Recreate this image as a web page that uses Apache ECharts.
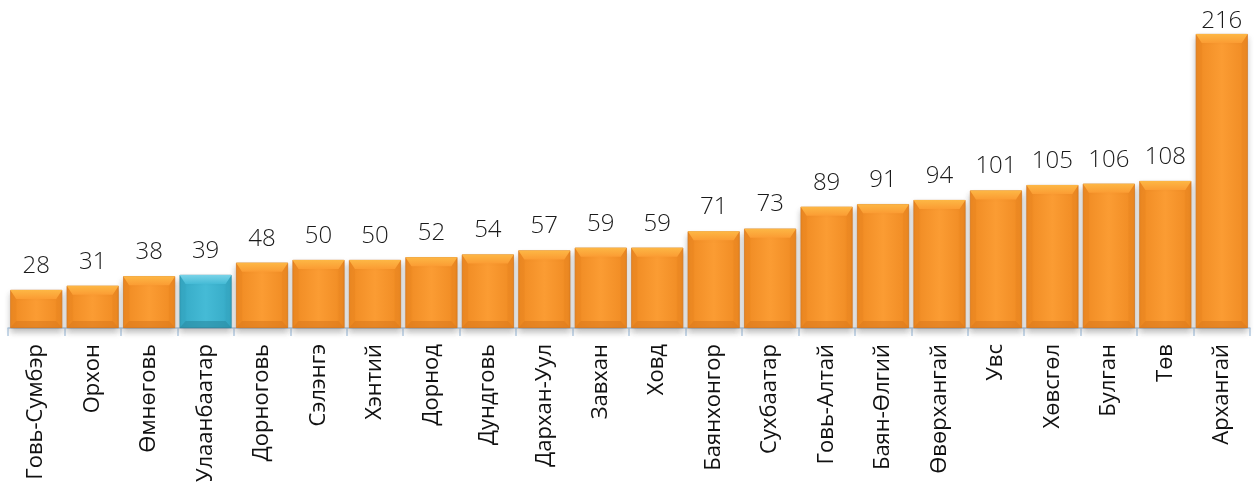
<!DOCTYPE html>
<html>
<head>
<meta charset="utf-8">
<script src="https://cdn.jsdelivr.net/npm/echarts@6/dist/echarts.min.js"></script>
<style>
  html, body { margin: 0; padding: 0; background: #fff; }
  #chart { width: 1259px; height: 488px; }
</style>
</head>
<body>
<div id="chart"></div>
<script>
// Aimags sorted ascending by value; the capital is shown in blue.
const categories = ['Говь-Сумбэр', 'Орхон', 'Өмнөговь', 'Улаанбаатар', 'Дорноговь', 'Сэлэнгэ', 'Хэнтий', 'Дорнод', 'Дундговь', 'Дархан-Уул', 'Завхан', 'Ховд', 'Баянхонгор', 'Сухбаатар', 'Говь-Алтай', 'Баян-Өлгий', 'Өвөрхангай', 'Увс', 'Хөвсгөл', 'Булган', 'Төв', 'Архангай'];
const values = [28, 31, 38, 39, 48, 50, 50, 52, 54, 57, 59, 59, 71, 73, 89, 91, 94, 101, 105, 106, 108, 216];
const highlighted = ['Улаанбаатар'];

const palette = {
  orange: { edge: '#ef8a22', mid: '#fb9c33', top: '#fdb745', bottom: '#dc7a1c', side: '#e9841f', line: '#c46b1c' },
  blue:   { edge: '#35a9c5', mid: '#45bbd6', top: '#79d3e8', bottom: '#2a8aa2', side: '#33a2bd', line: '#26798f' }
};
const tone = name => highlighted.includes(name) ? palette.blue : palette.orange;
const yMax = 216;

const chart = echarts.init(document.getElementById('chart'));

const barData = values.map((v, i) => {
  const c = tone(categories[i]);
  return {
    value: v,
    label: v >= yMax ? { distance: 1 } : undefined,
    itemStyle: {
      color: new echarts.graphic.LinearGradient(0, 0, 1, 0, [
        { offset: 0, color: c.edge },
        { offset: 0.5, color: c.mid },
        { offset: 1, color: c.edge }
      ]),
      borderColor: c.line,
      borderWidth: 0.6,
      shadowColor: 'rgba(70,70,70,0.35)',
      shadowBlur: 6,
      shadowOffsetY: 4
    }
  };
});

// Bevel facets painted over each bar, positioned via the axis scales.
function renderBevel(params, api) {
  const idx = api.value(0);
  const val = api.value(1);
  const top = api.coord([idx, val]);
  const base = api.coord([idx, 0]);
  const w = api.size([1, 0])[0] * 0.92;
  const x0 = top[0] - w / 2, x1 = top[0] + w / 2;
  const y0 = top[1], y1 = base[1];
  const h = y1 - y0;
  const bt = Math.min(9, h / 3), bb = Math.min(7, h / 3), bs = 6;
  const c = tone(categories[idx]);
  return {
    type: 'group',
    children: [
      { type: 'polygon', shape: { points: [[x0, y0], [x0 + bs, y0 + bt], [x0 + bs, y1 - bb], [x0, y1]] },
        style: { fill: c.side, opacity: 0.35 } },
      { type: 'polygon', shape: { points: [[x1, y0], [x1 - bs, y0 + bt], [x1 - bs, y1 - bb], [x1, y1]] },
        style: { fill: c.side, opacity: 0.35 } },
      { type: 'polygon', shape: { points: [[x0, y0], [x1, y0], [x1 - bs, y0 + bt], [x0 + bs, y0 + bt]] },
        style: { fill: new echarts.graphic.LinearGradient(0, 0, 0, 1, [
          { offset: 0, color: c.top }, { offset: 1, color: c.mid }]) } },
      { type: 'polygon', shape: { points: [[x0 + bs, y1 - bb], [x1 - bs, y1 - bb], [x1, y1], [x0, y1]] },
        style: { fill: c.bottom, opacity: 0.6 } }
    ]
  };
}

chart.setOption({
  animation: false,
  grid: { left: 8, right: 9, top: 34, bottom: 160, containLabel: false },
  xAxis: {
    type: 'category',
    data: categories,
    axisLine: { lineStyle: { color: '#b7cde4', width: 1.5 } },
    axisTick: { show: true, length: 8, lineStyle: { color: '#b7cde4', width: 1.5 } },
    axisLabel: {
      rotate: 90,
      margin: 16,
      interval: 0,
      color: '#111',
      fontSize: 22,
      fontFamily: 'Open Sans'
    }
  },
  yAxis: {
    type: 'value',
    min: 0,
    max: yMax,
    show: false,
    splitLine: { show: false }
  },
  series: [
    {
      type: 'bar',
      data: barData,
      barCategoryGap: '8%',
      z: 2,
      label: {
        show: true,
        position: 'top',
        distance: 12,
        color: '#1a1a1a',
        fontSize: 24,
        fontFamily: 'Open Sans',
        fontWeight: 300
      }
    },
    {
      type: 'custom',
      renderItem: renderBevel,
      data: values.map((v, i) => [i, v]),
      z: 3,
      silent: true
    }
  ]
});
</script>
</body>
</html>
